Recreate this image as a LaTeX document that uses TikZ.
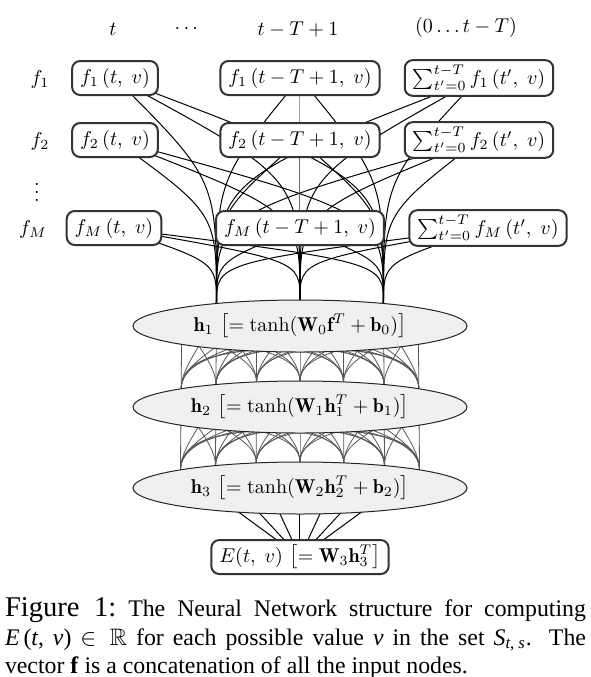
\documentclass[tikz,border=0pt]{standalone}
\usepackage{amsmath}
\usepackage{amssymb}
\usepackage{fontspec}
\newfontfamily\capfont{Liberation Serif}
\usepackage{tikz}
\usetikzlibrary{
	calc,
	shapes.geometric,
	backgrounds
}

\begin{document}
\begin{tikzpicture}[x=0.5pt,y=-0.5pt,
		box/.style={draw=black!80,line width=1pt,rounded corners=4pt,fill=white,
			inner xsep=4pt,inner ysep=2.5pt,minimum height=17pt},
		layer/.style={draw=black!85,line width=0.5pt,ellipse,fill=black!6,
			minimum width=167pt,minimum height=26pt,inner sep=0pt},
		inlink/.style={line width=0.5pt},
		hlink/.style={black!65,line width=0.4pt,out=-90,in=90,looseness=0.75}]
		
		\useasboundingbox (0,0) rectangle (591,677);
		
		%---------------- Time columns ----------------%
		
		\node (tcol) at (113,29) {$t$};
		\node (dots) at (188,29) {$\cdots$};
		\node (Tcol) at (298,29) {$t-T+1$};
		\node (scol) at (466,27) {$(0\ldots t-T)$};
		
		\node (l1) at (40,79) {$f_1$};
		\node (l2) at (40,141) {$f_2$};
		\node (lv) at (37,186) {$\vdots$};
		\node (lM) at (33,229) {$f_M$};
		
		%---------------- Input nodes ----------------%
		
		\node[box] (f1t) at (115,78) {$f_1\,(t,\;v)$};
		\node[box] (f1T) at (300,78) {$f_1\,(t-T+1,\;v)$};
		\node[box] (f1s) at (479,78) {$\sum_{t'=0}^{t-T} f_1\,(t',\;v)$};
		
		\node[box] (f2t) at (115,140) {$f_2\,(t,\;v)$};
		\node[box] (f2T) at (300,140) {$f_2\,(t-T+1,\;v)$};
		\node[box] (f2s) at (479,140) {$\sum_{t'=0}^{t-T} f_2\,(t',\;v)$};
		
		\node[box] (fMt) at (114,228) {$f_M\,(t,\;v)$};
		\node[box] (fMT) at (300,228) {$f_M\,(t-T+1,\;v)$};
		\node[box] (fMs) at (488,228) {$\sum_{t'=0}^{t-T} f_M\,(t',\;v)$};
		
		%---------------- Hidden layers ----------------%
		
		\node[layer] (h1) at (300,326)
		{$\mathbf{h}_1\,\left[=\tanh(\mathbf{W}_0\mathbf{f}^T+\mathbf{b}_0)\right]$};
		\node[layer] (h2) at (300,407)
		{$\mathbf{h}_2\,\left[=\tanh(\mathbf{W}_1\mathbf{h}_1^T+\mathbf{b}_1)\right]$};
		\node[layer] (h3) at (300,488)
		{$\mathbf{h}_3\,\left[=\tanh(\mathbf{W}_2\mathbf{h}_2^T+\mathbf{b}_2)\right]$};
		
		\node[box] (E) at (300,557) {$E(t,\;v)\,\left[=\mathbf{W}_3\mathbf{h}_3^T\right]$};
		
		\foreach \k/\ang in {1/45,2/60,3/75,4/90,5/105,6/120,7/135}{
			\coordinate (h1-\k) at ($(h1.center)+({167*cos(\ang)},{-26*sin(\ang)})$);
			\coordinate (h2-\k) at ($(h2.center)+({168*cos(\ang)},{-26*sin(\ang)})$);
			\coordinate (h3-\k) at ($(h3.center)+({169*cos(\ang)},{-26*sin(\ang)})$);
		}
		
		%---------------- Connections ----------------%
		
		\begin{scope}[on background layer]
			\fill[white] (0,0) rectangle (591,677);
			\foreach \src in {f1t,f1T,f1s,f2t,f2T,f2s,fMt,fMT,fMs}
			\foreach \dst in {h1-2,h1-4,h1-6}
			\draw[inlink] (\src.center) .. controls ($(\dst)!0.55!(\dst |- \src)$) .. (\dst);
			
			\foreach \i in {1,...,7}
			\foreach \j in {1,...,7}{
				\draw[hlink] (h1-\i) to (h2-\j);
				\draw[hlink] (h2-\i) to (h3-\j);
			}
			
			\foreach \i in {1,...,7}
			\draw[inlink] (h3-\i) -- (E.center);
		\end{scope}
		
		%---------------- Caption ----------------%
		
		\node[anchor=north,text width=290.5pt,align=justify,inner sep=0pt] (cap) at (295.5,597)
		{\capfont\fontsize{11.9}{14.4}\selectfont
			{\fontsize{14.3}{14.4}\selectfont Figure 1:}\ The Neural Network structure for computing\linebreak
			\textit{E}\,(\textit{t},\ \textit{v}) $\in\mathbb{R}$ for each possible value \textit{v} in the set \textit{S}\textsubscript{\textit{t}, \textit{s}}. The\linebreak
			vector \textbf{f} is a concatenation of all the input nodes.\par};
		
	\end{tikzpicture}
\end{document}
